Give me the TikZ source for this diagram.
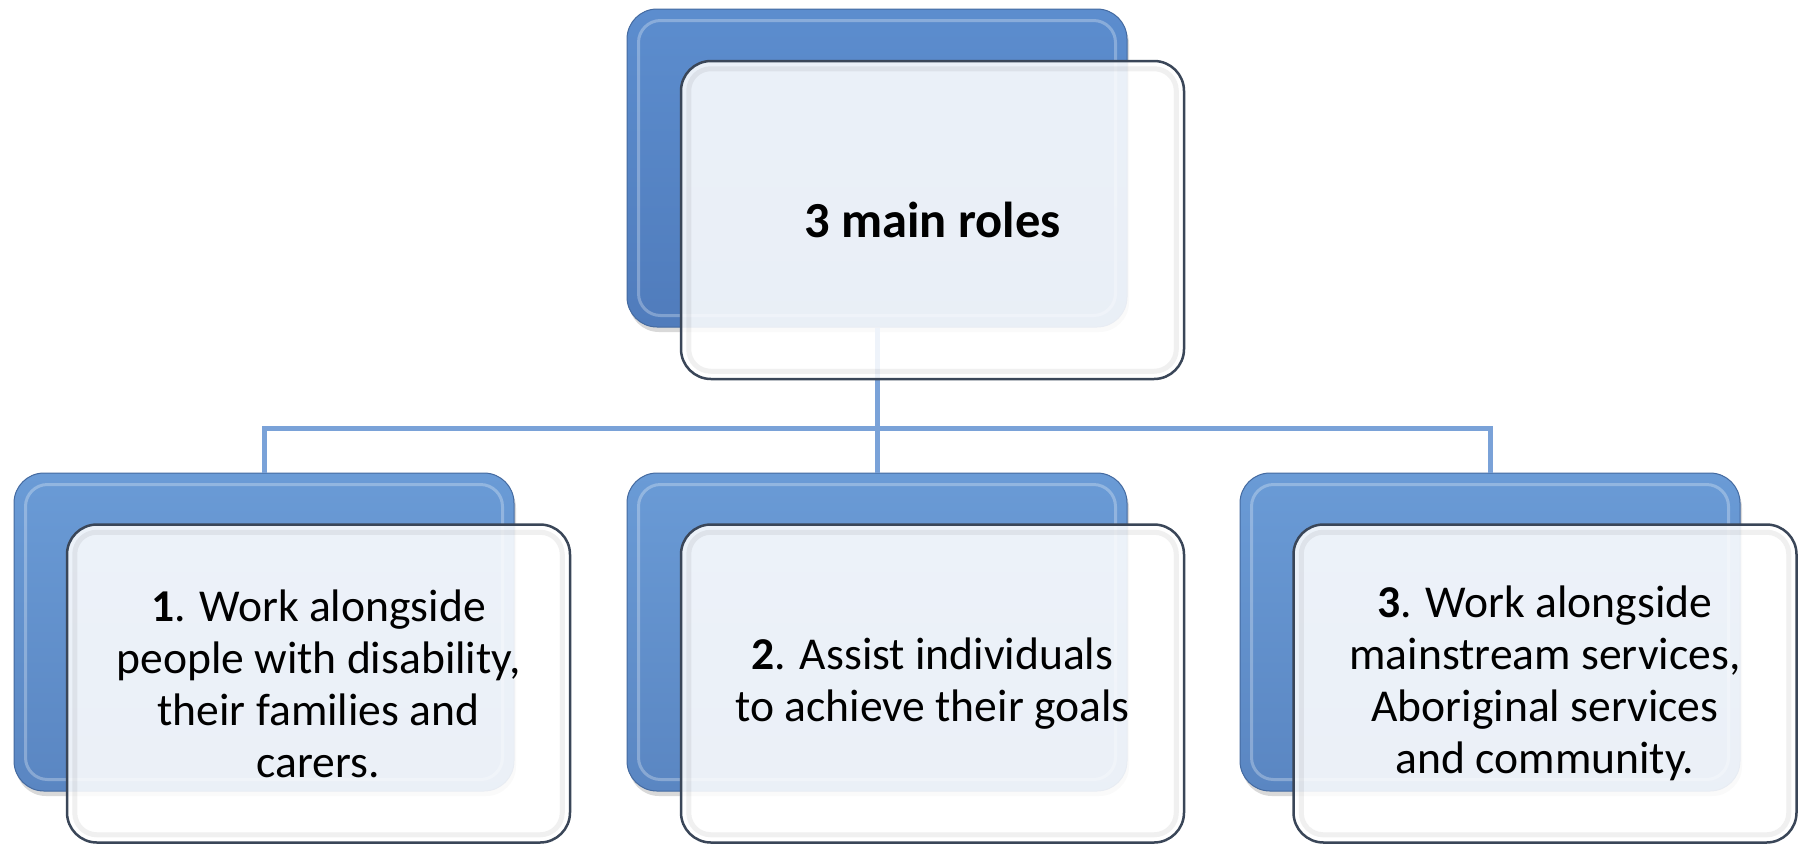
\documentclass[tikz,border=0pt]{standalone}
\usepackage{fontspec}
\setmainfont{Carlito}
\usetikzlibrary{shadows}
\definecolor{bluetop}{RGB}{92,141,206}
\definecolor{bluebot}{RGB}{80,124,188}
\definecolor{bluetopb}{RGB}{106,155,214}
\definecolor{bluebotb}{RGB}{90,134,194}
\definecolor{blueedge}{RGB}{68,106,160}
\definecolor{conncol}{RGB}{122,162,216}
\definecolor{wborder}{RGB}{58,70,88}
\tikzset{
  bluebox/.style={rounded corners=30pt, top color=bluetop, bottom color=bluebot,
    draw=blueedge, line width=1pt, minimum width=500pt, minimum height=318pt,
    drop shadow={opacity=0.3, shadow xshift=2pt, shadow yshift=-5pt}},
  lowblue/.style={top color=bluetopb, bottom color=bluebotb},
  bluehl/.style={rounded corners=22pt, draw=white, draw opacity=0.28, line width=3pt},
  whitebox/.style={rounded corners=30pt, fill=white, fill opacity=0.88, text opacity=1,
    draw=wborder, draw opacity=1, line width=2.5pt, minimum width=503pt,
    minimum height=318pt, align=center, text=black,
    font=\fontsize{45.6}{52}\selectfont},
  whitehl/.style={rounded corners=22pt, draw=black, draw opacity=0.06, line width=5pt},
  conn/.style={draw=conncol, line width=5pt},
  connshadow/.style={draw=black, draw opacity=0.25, line width=5pt},
}
\begin{document}
\begin{tikzpicture}[x=1pt,y=-1pt]
\useasboundingbox (0,0) rectangle (1806,844);
% blue back boxes
\node[bluebox] (tb) at (877,168) {};
\node[bluebox, lowblue] (b1) at (264,632) {};
\node[bluebox, lowblue] (b2) at (877,632) {};
\node[bluebox, lowblue] (b3) at (1490,632) {};
\foreach \n in {tb,b1,b2,b3}{
  \draw[bluehl] ([shift={(12,12)}]\n.north west) rectangle ([shift={(-12,-12)}]\n.south east);
}
% connectors
\coordinate (hub) at (877,428);
\draw[conn] (tb.south) -- (hub);
\draw[conn] (b1.north) |- (hub) -| (b3.north);
\draw[conn] (hub) -- (b2.north);
% white front boxes
\node[whitebox, font=\fontsize{50.5}{58}\selectfont\bfseries] (tw) at (932.5,220) {3 main roles};
\node[whitebox] (w1) at (318.5,683.5) {\textbf{1}. Work alongside\\people with disability,\\their families and\\carers.};
\node[whitebox] (w2) at (932.5,683.5) {\textbf{2}. Assist individuals\\to achieve their goals};
\node[whitebox] (w3) at (1545,683.5) {\textbf{3}. Work alongside\\mainstream services,\\Aboriginal services\\and community.};
\foreach \n in {tw,w1,w2,w3}{
  \draw[whitehl] ([shift={(9,9)}]\n.north west) rectangle ([shift={(-9,-9)}]\n.south east);
}
\end{tikzpicture}
\end{document}
